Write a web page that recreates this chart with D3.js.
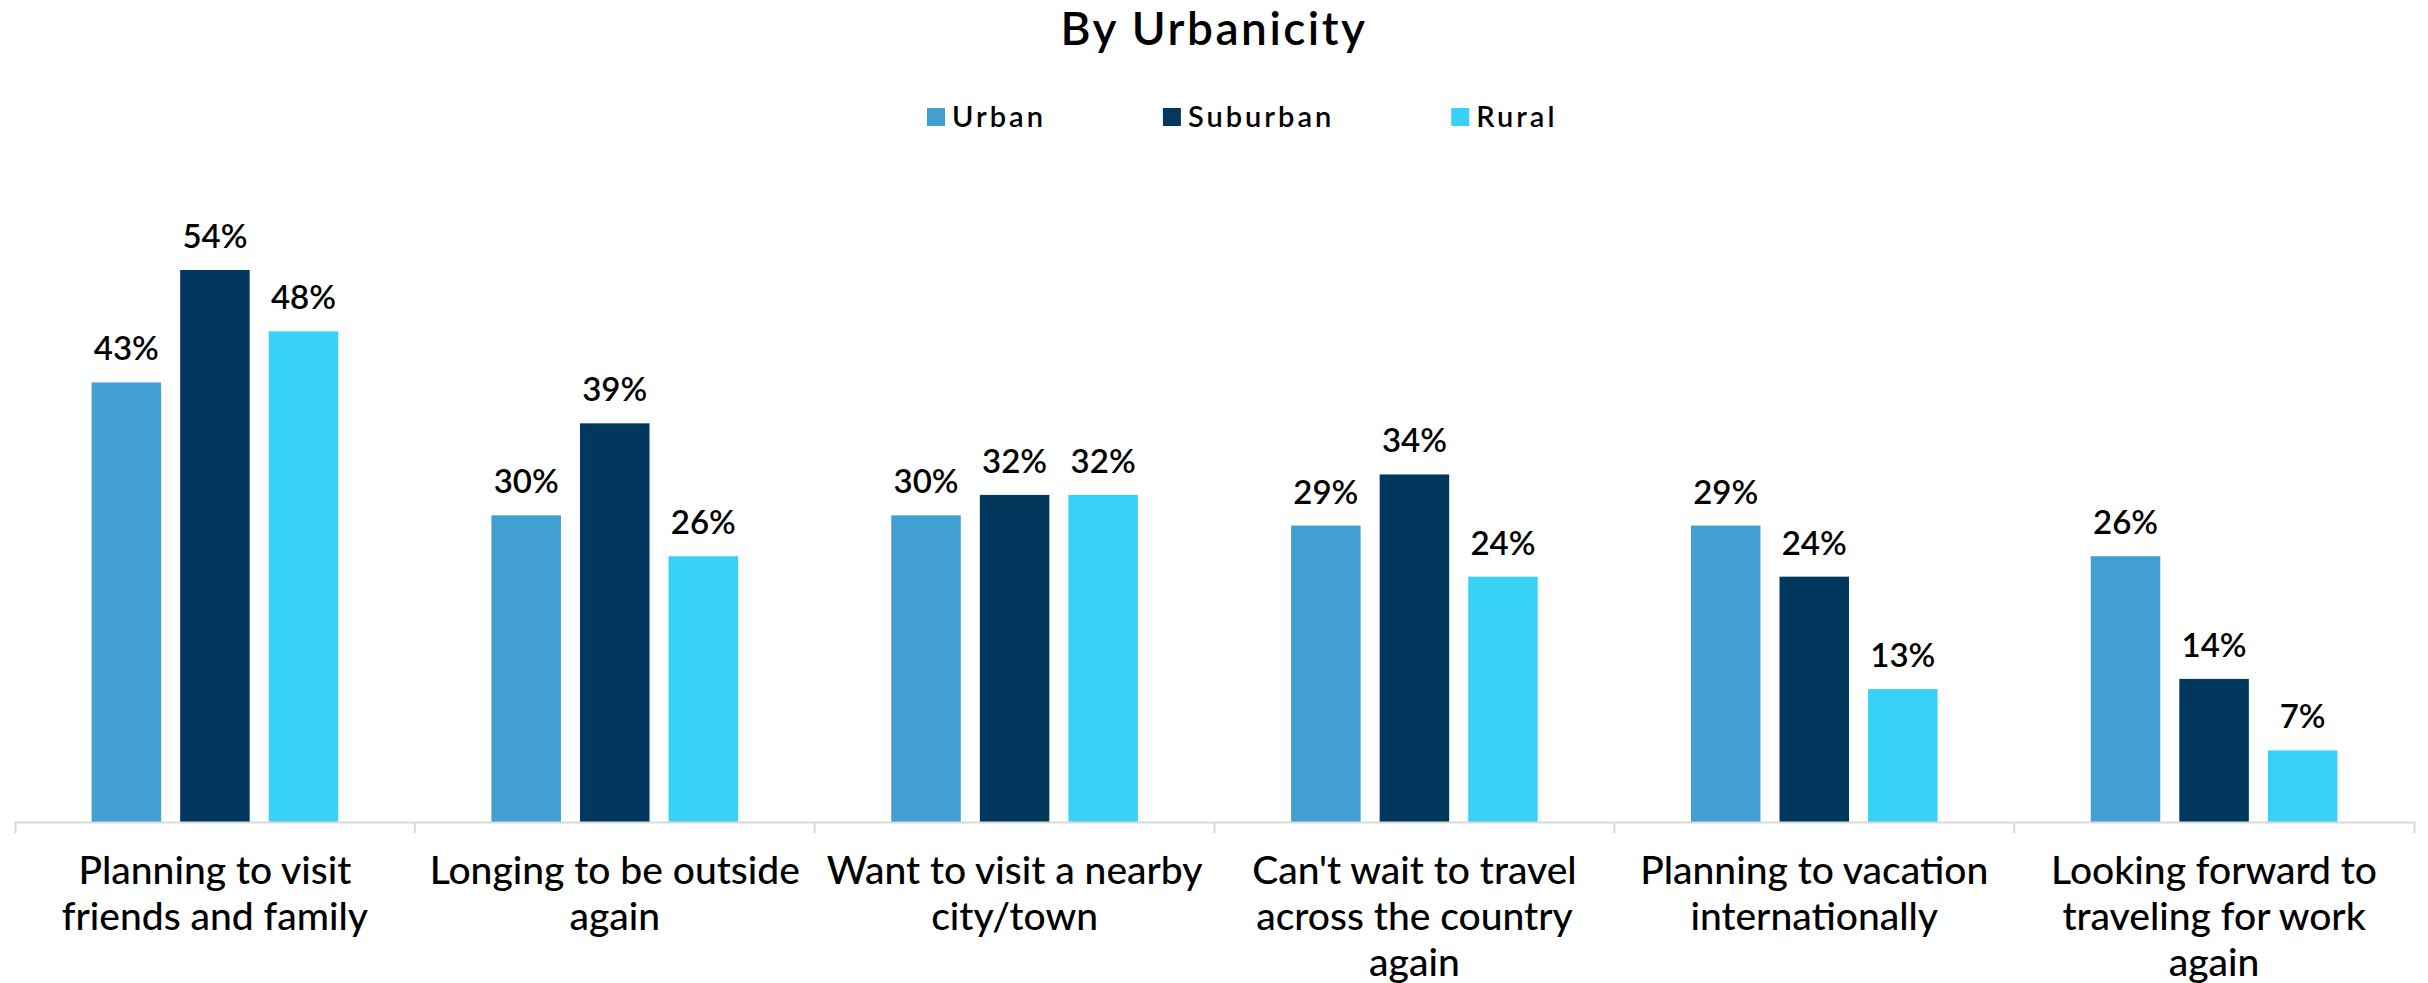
<!DOCTYPE html>
<html>
<head>
<meta charset="utf-8">
<script src="https://cdn.jsdelivr.net/npm/d3@7"></script>
<style>
  body { margin: 0; background: #fff; }
  text { font-family: Lato, "Open Sans", sans-serif; fill: #000; }
</style>
</head>
<body>
<div id="wrapper"></div>
<script>
// data
const categories = [
  "Planning to visit\nfriends and family",
  "Longing to be outside\nagain",
  "Want to visit a nearby\ncity/town",
  "Can't wait to travel\nacross the country\nagain",
  "Planning to vacation\ninternationally",
  "Looking forward to\ntraveling for work\nagain"
];
const seriesNames = ["Urban", "Suburban", "Rural"];
const urban = [43, 30, 30, 29, 29, 26];
const suburban = [54, 39, 32, 34, 24, 14];
const rural = [48, 26, 32, 24, 13, 7];
const colors = ["#419fd1", "#03385e", "#38d2f7"];

function draw() {
  const width = 2428, height = 983;
  const baseY = 822;

  const values = [urban, suburban, rural];
  const rows = categories.map((c, i) => ({
    cat: c,
    bars: seriesNames.map((s, j) => ({ key: s, value: values[j][i] }))
  }));

  const svg = d3.select("#wrapper")
    .append("svg")
      .attr("width", width)
      .attr("height", height);

  const x0 = d3.scaleBand()
    .domain(categories)
    .range([15, 2414])
    .padding(0);

  const x1 = d3.scaleBand()
    .domain(seriesNames)
    .range([0, x0.bandwidth()])
    .paddingInner(0.215)
    .paddingOuter(0.865);

  const y = d3.scaleLinear()
    .domain([0, 60])
    .range([baseY, baseY - 60 * 10.222]);

  const color = d3.scaleOrdinal().domain(seriesNames).range(colors);

  // title
  svg.append("text")
    .attr("x", 1214)
    .attr("y", 45)
    .attr("text-anchor", "middle")
    .style("font-size", "46px")
    .style("font-weight", "600")
    .style("letter-spacing", "2.5px")
    .text("By Urbanicity");

  // legend
  const legend = svg.append("g").attr("transform", "translate(927,0)");
  let lx = 0;
  seriesNames.forEach(s => {
    const g = legend.append("g").attr("transform", "translate(" + lx + ",0)");
    g.append("rect")
      .attr("x", 0).attr("y", 108)
      .attr("width", 18).attr("height", 18)
      .attr("fill", color(s));
    const t = g.append("text")
      .attr("x", 25).attr("y", 127)
      .style("font-size", "29px")
      .style("font-weight", "600")
      .style("letter-spacing", "3px")
      .text(s);
    lx += 25 + t.node().getComputedTextLength() + 117;
  });

  // bars
  const groups = svg.append("g")
    .selectAll("g")
    .data(rows)
    .join("g")
      .attr("transform", d => "translate(" + x0(d.cat) + ",0)");

  groups.selectAll("rect")
    .data(d => d.bars)
    .join("rect")
      .attr("x", d => x1(d.key))
      .attr("y", d => y(d.value))
      .attr("width", x1.bandwidth())
      .attr("height", d => y(0) - y(d.value))
      .attr("fill", d => color(d.key));

  groups.selectAll("text.val")
    .data(d => d.bars)
    .join("text")
      .attr("class", "val")
      .attr("x", d => x1(d.key) + x1.bandwidth() / 2)
      .attr("y", d => y(d.value) - 22)
      .attr("text-anchor", "middle")
      .style("font-size", "33px")
      .style("font-weight", "600")
      .text(d => d.value + "%");

  // x axis
  const xAxis = d3.axisBottom(x0).tickSize(0).tickSizeOuter(11);
  const axisG = svg.append("g")
    .attr("transform", "translate(0," + baseY + ")")
    .call(xAxis);
  axisG.select(".domain").attr("stroke", "#d9d9d9").attr("stroke-width", 2);
  axisG.selectAll(".tick line").remove();

  // boundary ticks between categories
  axisG.append("g")
    .selectAll("line")
    .data(categories.slice(1))
    .join("line")
      .attr("x1", d => x0(d))
      .attr("x2", d => x0(d))
      .attr("y1", 0)
      .attr("y2", 11)
      .attr("stroke", "#d9d9d9")
      .attr("stroke-width", 2);

  axisG.selectAll(".tick text")
    .attr("fill", "#000")
    .style("font-size", "39px")
    .style("font-weight", "500")
    .style("font-family", "Lato, 'Open Sans', sans-serif")
    .attr("y", 0)
    .attr("dy", null)
    .each(function(d) {
      const el = d3.select(this);
      const lines = d.split("\n");
      el.text(null);
      lines.forEach((ln, i) => {
        el.append("tspan")
          .attr("x", 0)
          .attr("y", 62 + i * 46)
          .text(ln);
      });
    });
}
draw();
</script>
</body>
</html>
